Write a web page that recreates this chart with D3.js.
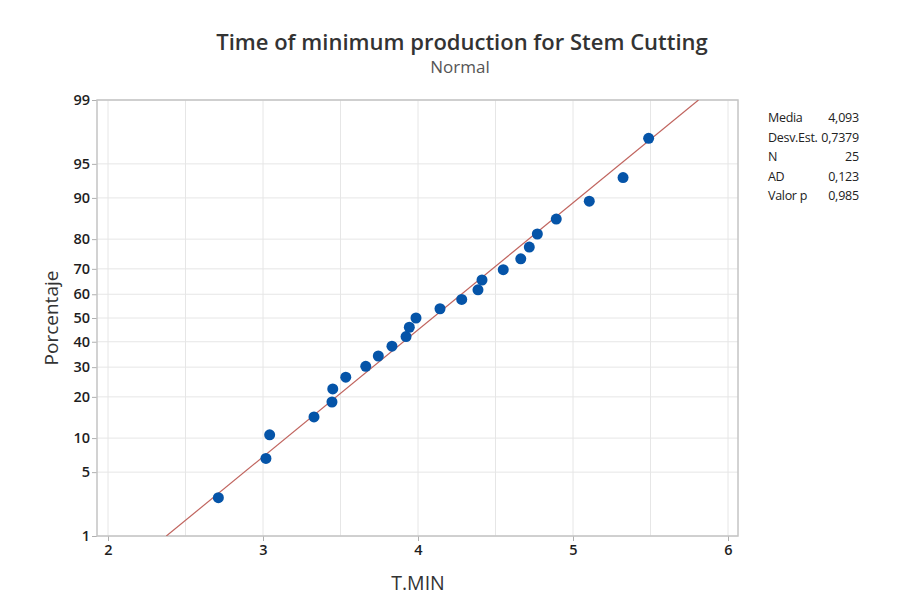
<!DOCTYPE html>
<html>
<head>
<meta charset="utf-8">
<script src="https://cdn.jsdelivr.net/npm/d3@7"></script>
<style>
  body { margin: 0; background: #fff; }
  text { font-family: "Open Sans", "Noto Sans", sans-serif; }
</style>
</head>
<body>
<script>
var tmin = [2.712, 3.019, 3.043, 3.329, 3.445, 3.450, 3.534, 3.663, 3.744, 3.832,
            3.923, 3.944, 3.987, 4.142, 4.282, 4.387, 4.413, 4.550, 4.663, 4.718,
            4.770, 4.892, 5.105, 5.323, 5.488];
var pctTicks = [1, 5, 10, 20, 30, 40, 50, 60, 70, 80, 90, 95, 99];
var xTicks = [2, 3, 4, 5, 6];
var xGrid = [2, 2.5, 3, 3.5, 4, 4.5, 5, 5.5, 6];
var statLabels = ["Media", "Desv.Est.", "N", "AD", "Valor p"];
var statValues = ["4,093", "0,7379", "25", "0,123", "0,985"];
var mean = 4.093, sd = 0.7379;

var W = 904, H = 607;
var pL = 97, pR = 738, pT = 100, pB = 536;

// inverse standard normal (Acklam)
function probit(p) {
  var a = [-39.69683028665376, 220.9460984245205, -275.9285104469687, 138.3577518672690, -30.66479806614716, 2.506628277459239];
  var b = [-54.47609879822406, 161.5858368580409, -155.6989798598866, 66.80131188771972, -13.28068155288572];
  var c = [-0.007784894002430293, -0.3223964580411365, -2.400758277161838, -2.549732539343734, 4.374664141464968, 2.938163982698783];
  var d = [0.007784695709041462, 0.3224671290700398, 2.445134137142996, 3.754408661907416];
  var pl = 0.02425, q, r;
  if (p < pl) {
    q = Math.sqrt(-2 * Math.log(p));
    return (((((c[0]*q+c[1])*q+c[2])*q+c[3])*q+c[4])*q+c[5]) / ((((d[0]*q+d[1])*q+d[2])*q+d[3])*q+1);
  }
  if (p > 1 - pl) {
    q = Math.sqrt(-2 * Math.log(1 - p));
    return -(((((c[0]*q+c[1])*q+c[2])*q+c[3])*q+c[4])*q+c[5]) / ((((d[0]*q+d[1])*q+d[2])*q+d[3])*q+1);
  }
  q = p - 0.5; r = q * q;
  return (((((a[0]*r+a[1])*r+a[2])*r+a[3])*r+a[4])*r+a[5])*q / (((((b[0]*r+b[1])*r+b[2])*r+b[3])*r+b[4])*r+1);
}

var n = tmin.length;
// median rank plotting positions
var points = tmin.map(function(v, i) { return {x: v, z: probit((i + 1 - 0.3) / (n + 0.4))}; });

var x = d3.scaleLinear().domain([2 - (108 - pL) / 155, 6 + (pR - 728) / 155]).range([pL, pR]);
var y = d3.scaleLinear().domain([probit(0.01), probit(0.99)]).range([pB, pT]);

var svg = d3.select("body").append("svg").attr("width", W).attr("height", H);

// grid
svg.append("g").selectAll("line").data(xGrid).enter().append("line")
  .attr("x1", function(d) { return x(d); }).attr("x2", function(d) { return x(d); })
  .attr("y1", pT).attr("y2", pB)
  .attr("stroke", "#e6e6e6").attr("stroke-width", 1);
svg.append("g").selectAll("line").data(pctTicks).enter().append("line")
  .attr("x1", pL).attr("x2", pR)
  .attr("y1", function(d) { return y(probit(d / 100)); }).attr("y2", function(d) { return y(probit(d / 100)); })
  .attr("stroke", "#e6e6e6").attr("stroke-width", 1);

// axes
var yAxis = d3.axisLeft(y)
  .tickValues(pctTicks.map(function(p) { return probit(p / 100); }))
  .tickFormat(function(d, i) { return pctTicks[i]; })
  .tickSize(5).tickSizeOuter(0);
var gy = svg.append("g").attr("transform", "translate(" + pL + ",0)").call(yAxis);
var xAxis = d3.axisBottom(x).tickValues(xTicks).tickFormat(d3.format("d")).tickSize(5).tickSizeOuter(0);
var gx = svg.append("g").attr("transform", "translate(0," + pB + ")").call(xAxis);
[gx, gy].forEach(function(g) {
  g.select(".domain").remove();
  g.selectAll(".tick line").attr("stroke", "#b0b0b0");
  g.selectAll(".tick text").attr("fill", "#1e1e1e").style("font-size", "14.5px").style("font-weight", 600);
});
gy.selectAll(".tick text").attr("x", -7);
gx.selectAll(".tick text").attr("y", 9);

// frame
svg.append("rect").attr("x", pL).attr("y", pT).attr("width", pR - pL).attr("height", pB - pT)
  .attr("fill", "none").attr("stroke", "#c4c4c4").attr("stroke-width", 1.5);

// fitted line
svg.append("clipPath").attr("id", "plotclip").append("rect")
  .attr("x", pL).attr("y", pT).attr("width", pR - pL).attr("height", pB - pT);
var zLo = probit(0.01), zHi = probit(0.99);
svg.append("line").attr("clip-path", "url(#plotclip)")
  .attr("x1", x(mean + zLo * sd)).attr("y1", y(zLo))
  .attr("x2", x(mean + zHi * sd)).attr("y2", y(zHi))
  .attr("stroke", "#c0645e").attr("stroke-width", 1.2);

// points
svg.append("g").selectAll("circle").data(points).enter().append("circle")
  .attr("cx", function(d) { return x(d.x); })
  .attr("cy", function(d) { return y(d.z); })
  .attr("r", 5.5)
  .attr("fill", "#0554a8");

// titles
svg.append("text").attr("x", 462).attr("y", 50).attr("text-anchor", "middle")
  .style("font-size", "22px").style("font-weight", 600).attr("fill", "#333")
  .text("Time of minimum production for Stem Cutting");
svg.append("text").attr("x", 460).attr("y", 73).attr("text-anchor", "middle")
  .style("font-size", "17px").attr("fill", "#555").text("Normal");
svg.append("text").attr("x", 418).attr("y", 590).attr("text-anchor", "middle")
  .style("font-size", "19.5px").attr("fill", "#333").text("T.MIN");
svg.append("text").attr("transform", "translate(58,318) rotate(-90)").attr("text-anchor", "middle")
  .style("font-size", "19px").attr("fill", "#333").text("Porcentaje");

// stats table
var stats = svg.append("g");
stats.selectAll("text.lab").data(statLabels).enter().append("text").attr("class", "lab")
  .attr("x", 768).attr("y", function(d, i) { return 122 + i * 19.5; })
  .style("font-size", "12.5px").style("letter-spacing", "-0.3px").attr("fill", "#222").text(function(d) { return d; });
stats.selectAll("text.val").data(statValues).enter().append("text").attr("class", "val")
  .attr("x", 859).attr("y", function(d, i) { return 122 + i * 19.5; }).attr("text-anchor", "end")
  .style("font-size", "12.5px").style("letter-spacing", "-0.2px").attr("fill", "#222").text(function(d) { return d; });
</script>
</body>
</html>
